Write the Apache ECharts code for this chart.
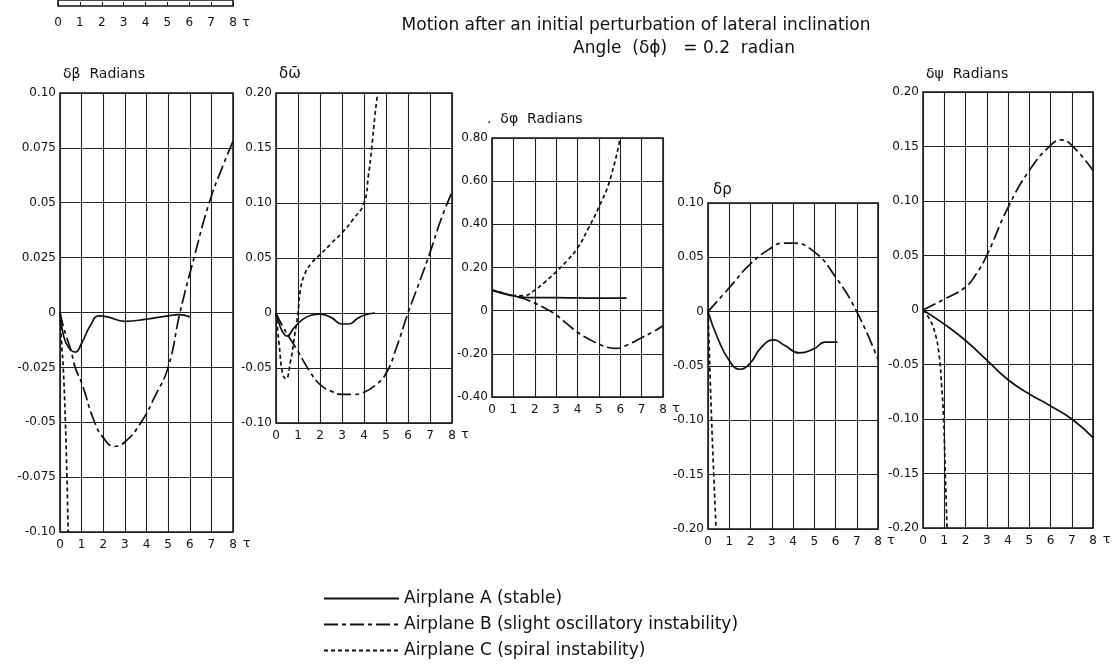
<!DOCTYPE html>
<html>
<head>
<meta charset="utf-8">
<script src="https://cdn.jsdelivr.net/npm/echarts@6/dist/echarts.min.js"></script>
<style>
  html, body { margin: 0; padding: 0; background: #fff; }
  #chart { width: 1120px; height: 665px; }
</style>
</head>
<body>
<div id="chart"></div>
<script>
// tau axis labels (shared)
const tauLabels = ['0', '1', '2', '3', '4', '5', '6', '7', '8'];

// delta beta (sideslip)
const betaTicks = ['-0.10', '-0.075', '-0.05', '-0.025', '0', '0.025', '0.05', '0.075', '0.10'];
const betaA = [[0, 0], [0.15, -0.01], [0.4, -0.016], [0.7, -0.018], [1.0, -0.014], [1.4, -0.006], [1.8, -0.0015], [2.2, -0.002], [3, -0.004], [4, -0.003], [5, -0.0015], [5.5, -0.001], [6, -0.002]];
const betaB = [[0, 0], [0.2, -0.008], [0.5, -0.017], [0.7, -0.025], [1.0, -0.032], [1.6, -0.05], [2.0, -0.057], [2.5, -0.061], [3.0, -0.059], [3.75, -0.05], [4.4, -0.038], [5.0, -0.025], [5.55, 0], [6.2, 0.025], [6.9, 0.05], [7.5, 0.066], [8, 0.078]];
const betaC = [[0, 0], [0.08, -0.015], [0.15, -0.025], [0.25, -0.05], [0.32, -0.075], [0.38, -0.1]];

// delta omega-bar
const omegaTicks = ['-0.10', '-0.05', '0', '0.05', '0.10', '0.15', '0.20'];
const omegaA = [[0, 0], [0.15, -0.01], [0.3, -0.017], [0.5, -0.021], [0.8, -0.014], [1.2, -0.006], [1.6, -0.002], [2, -0.001], [2.5, -0.004], [3, -0.01], [3.3, -0.01], [3.7, -0.005], [4, -0.002], [4.5, 0]];
const omegaB = [[0, 0], [0.3, -0.012], [0.6, -0.022], [1, -0.035], [1.5, -0.052], [2, -0.065], [2.5, -0.071], [3, -0.074], [3.5, -0.074], [4, -0.072], [4.5, -0.066], [5, -0.055], [5.5, -0.03], [6, 0], [6.5, 0.027], [7, 0.055], [7.5, 0.085], [8, 0.11]];
const omegaC = [[0, 0], [0.15, -0.03], [0.3, -0.055], [0.45, -0.06], [0.65, -0.045], [0.85, -0.02], [1.0, 0], [1.1, 0.02], [1.3, 0.035], [1.6, 0.045], [2, 0.053], [2.5, 0.063], [3, 0.073], [3.5, 0.085], [4, 0.1], [4.2, 0.125], [4.35, 0.15], [4.5, 0.18], [4.62, 0.2]];

// delta phi (bank)
const phiTicks = ['-0.40', '-0.20', '0', '0.20', '0.40', '0.60', '0.80'];
const phiA = [[0, 0.095], [0.5, 0.08], [1, 0.068], [1.5, 0.062], [2, 0.06], [3, 0.06], [4, 0.059], [5, 0.058], [6.3, 0.058]];
const phiB = [[0, 0.095], [0.5, 0.082], [1, 0.07], [1.5, 0.055], [2, 0.035], [2.5, 0.01], [3, -0.02], [3.5, -0.06], [4, -0.1], [4.5, -0.13], [5, -0.155], [5.5, -0.172], [5.8, -0.175], [6.3, -0.16], [7, -0.125], [7.5, -0.1], [8, -0.07]];
const phiC = [[0, 0.095], [0.5, 0.083], [1, 0.07], [1.5, 0.07], [2, 0.095], [2.5, 0.135], [3, 0.18], [3.5, 0.23], [4, 0.29], [4.5, 0.38], [5, 0.48], [5.5, 0.6], [6, 0.8]];

// delta rho (roll rate)
const rhoTicks = ['-0.20', '-0.15', '-0.10', '-0.05', '0', '0.05', '0.10'];
const rhoA = [[0, 0], [0.45, -0.024], [1, -0.045], [1.5, -0.053], [2, -0.047], [2.5, -0.033], [3.1, -0.026], [3.6, -0.031], [4.3, -0.038], [5, -0.034], [5.5, -0.028], [6.1, -0.028]];
const rhoB = [[0, 0], [1, 0.022], [2, 0.044], [3, 0.059], [3.5, 0.063], [4, 0.063], [5, 0.055], [6, 0.032], [7, 0], [8, -0.044]];
const rhoC = [[0, 0], [0.05, -0.03], [0.1, -0.06], [0.17, -0.1], [0.27, -0.15], [0.38, -0.2]];

// delta psi (yaw)
const psiTicks = ['-0.20', '-0.15', '-0.10', '-0.05', '0', '0.05', '0.10', '0.15', '0.20'];
const psiA = [[0, 0], [1, -0.013], [2, -0.028], [3, -0.046], [4, -0.064], [5, -0.077], [6, -0.088], [7, -0.1], [8, -0.117]];
const psiB = [[0, 0], [1, 0.01], [2, 0.021], [2.5, 0.033], [3, 0.05], [4, 0.094], [5, 0.128], [6, 0.151], [6.5, 0.156], [7, 0.151], [8, 0.128]];
const psiC = [[0, 0], [0.3, -0.008], [0.55, -0.02], [0.75, -0.04], [0.88, -0.07], [0.97, -0.1], [1.05, -0.15], [1.13, -0.2]];

const names = ['Airplane A (stable)', 'Airplane B (slight oscillatory instability)', 'Airplane C (spiral instability)'];
const dashes = ['solid', [14, 4, 4, 4], [4, 3]];

const font = '"DejaVu Sans", "Liberation Sans", sans-serif';
const ink = '#111';

// panel frames: [left, top, width, height]
const panels = [
  { box: [60, 93, 173, 439], min: -0.1, max: 0.1, step: 0.025, ticks: betaTicks, data: [betaA, betaB, betaC] },
  { box: [276, 93, 176, 330], min: -0.1, max: 0.2, step: 0.05, ticks: omegaTicks, data: [omegaA, omegaB, omegaC] },
  { box: [492, 138, 171, 259], min: -0.4, max: 0.8, step: 0.2, ticks: phiTicks, data: [phiA, phiB, phiC] },
  { box: [708, 203, 170, 326], min: -0.2, max: 0.1, step: 0.05, ticks: rhoTicks, data: [rhoA, rhoB, rhoC] },
  { box: [923, 92, 170, 436], min: -0.2, max: 0.2, step: 0.05, ticks: psiTicks, data: [psiA, psiB, psiC] }
];

const grids = [], xAxes = [], yAxes = [], series = [];

panels.forEach((p, i) => {
  grids.push({
    left: p.box[0], top: p.box[1], width: p.box[2], height: p.box[3],
    show: true, borderColor: ink, borderWidth: 1.5, backgroundColor: 'transparent'
  });
  xAxes.push({
    gridIndex: i, type: 'value', min: 0, max: 8, interval: 1, position: 'bottom',
    name: 'τ', nameLocation: 'end', nameGap: 9,
    nameTextStyle: { color: ink, fontFamily: font, fontSize: 13, verticalAlign: 'top', padding: [5, 0, 0, 0] },
    axisLine: { show: false, onZero: false }, axisTick: { show: false },
    axisLabel: { color: ink, fontFamily: font, fontSize: 12, margin: 7, formatter: (v) => tauLabels[Math.round(v)] },
    splitLine: { show: true, lineStyle: { color: '#222', width: 1.1 } }
  });
  yAxes.push({
    gridIndex: i, type: 'value', min: p.min, max: p.max, interval: p.step,
    axisLine: { show: false, onZero: false }, axisTick: { show: false },
    axisLabel: {
      color: ink, fontFamily: font, fontSize: 12, margin: 4,
      formatter: (v) => p.ticks[Math.round((v - p.min) / p.step)]
    },
    splitLine: { show: true, lineStyle: { color: '#222', width: 1.1 } }
  });
  p.data.forEach((d, k) => {
    series.push({
      name: names[k], type: 'line', xAxisIndex: i, yAxisIndex: i,
      data: d, symbol: 'none', smooth: 0.5,
      lineStyle: { color: ink, width: 1.7, type: dashes[k] },
      itemStyle: { color: ink }, silent: true
    });
  });
});

// leftover strip of the previous figure at the top-left
grids.push({ left: 58, top: 0, width: 175, height: 6, show: true, borderColor: ink, borderWidth: 1.5, backgroundColor: 'transparent' });
xAxes.push({
  gridIndex: 5, type: 'value', min: 0, max: 8, interval: 1, position: 'bottom',
  name: 'τ', nameLocation: 'end', nameGap: 9,
  nameTextStyle: { color: ink, fontFamily: font, fontSize: 13, verticalAlign: 'top', padding: [10, 0, 0, 0] },
  axisLine: { show: false, onZero: false },
  axisTick: { show: true, inside: true, length: 4, lineStyle: { color: ink } },
  axisLabel: { color: ink, fontFamily: font, fontSize: 12, margin: 11, formatter: (v) => tauLabels[Math.round(v)] },
  splitLine: { show: false }
});
yAxes.push({ gridIndex: 5, type: 'value', min: 0, max: 1, axisLabel: { show: false }, axisTick: { show: false }, axisLine: { show: false }, splitLine: { show: false } });

const titleStyle = { color: ink, fontFamily: font, fontSize: 17, fontWeight: 'normal' };

const option = {
  backgroundColor: '#fff',
  animation: false,
  title: [
    { text: 'Motion after an initial perturbation of lateral inclination', left: 631, top: 12, textAlign: 'center', textStyle: titleStyle },
    { text: 'Angle  (δϕ)   = 0.2  radian', left: 679, top: 35, textAlign: 'center', textStyle: titleStyle },
    { text: 'δβ  Radians', left: 58, top: 62, textStyle: { ...titleStyle, fontSize: 14 } },
    { text: 'δω\u0304', left: 274, top: 62, textStyle: { ...titleStyle, fontSize: 15 } },
    { text: '.  δφ  Radians', left: 482, top: 107, textStyle: { ...titleStyle, fontSize: 14 } },
    { text: 'δρ', left: 708, top: 178, textStyle: { ...titleStyle, fontSize: 15 } },
    { text: 'δψ  Radians', left: 921, top: 62, textStyle: { ...titleStyle, fontSize: 14 } }
  ],
  legend: {
    orient: 'vertical', left: 318, top: 585, height: 80,
    itemWidth: 75, itemHeight: 14, itemGap: 9,
    itemStyle: { opacity: 0 },
    textStyle: { color: ink, fontFamily: font, fontSize: 17 },
    data: names
  },
  grid: grids,
  xAxis: xAxes,
  yAxis: yAxes,
  series: series
};

const myChart = echarts.init(document.getElementById('chart'));
myChart.setOption(option);
</script>
</body>
</html>
